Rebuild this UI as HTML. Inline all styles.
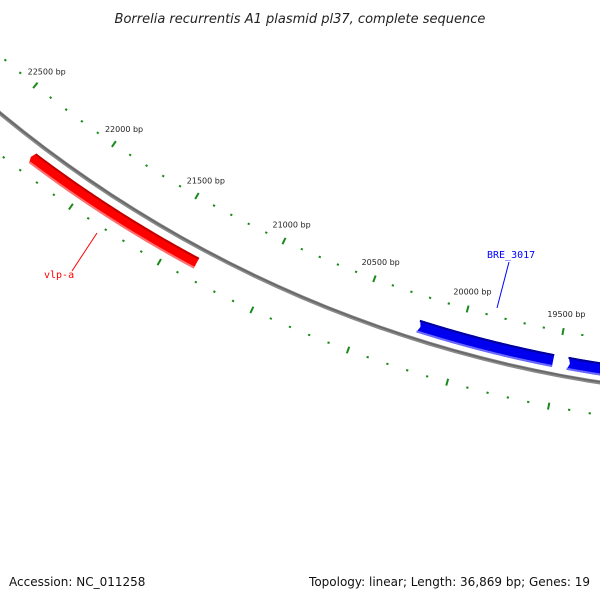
<!DOCTYPE html>
<html><head><meta charset="utf-8"><style>
body{margin:0;background:#fff}
svg{display:block;font-family:"DejaVu Sans","Liberation Sans",sans-serif}
</style></head><body>
<svg width="600" height="600" viewBox="0 0 600 600" id="map">
<rect width="600" height="600" fill="#fff"/>
<text x="300" y="23" text-anchor="middle" font-size="13" font-style="italic" fill="#222">Borrelia recurrentis A1 plasmid pl37, complete sequence</text>
<g id="ticks"></g>
<path id="backbone" fill="none" stroke="#888" stroke-width="4"/>
<path id="backbone2" fill="none" stroke="#666" stroke-width="1.5"/>
<g id="genes"></g>
<text x="9" y="586" font-size="12" fill="#111">Accession: NC_011258</text>
<text x="590" y="586" text-anchor="end" font-size="12" fill="#111">Topology: linear; Length: 36,869 bp; Genes: 19</text>
</svg>
<script>
const tickStart = 19000;
const tickEnd = 23000;
const majorLabels = [22500, 22000, 21500, 21000, 20500, 20000, 19500];
const geneNames = ["vlp-a", "BRE_3017", "BRE_next"];
const geneStarts = [21340, 19521, 17000];
const geneEnds = [22298, 20202, 19436];
const geneStrands = [-1, 1, 1];

const CX = 789, CY = -842;
const NS = "http://www.w3.org/2000/svg";
function ang(bp){ return (105.6 + (bp - 20000) * 0.0094) * Math.PI / 180; }
function pt(bp, r){ const a = ang(bp); return [CX + r*Math.cos(a), CY + r*Math.sin(a)]; }
function el(t, attrs){ const e = document.createElementNS(NS, t); for (const k in attrs) e.setAttribute(k, attrs[k]); return e; }
function arcPath(b1, b2, r){
  let d = ""; const n = 60;
  for (let i = 0; i <= n; i++){ const p = pt(b1 + (b2-b1)*i/n, r); d += (i? "L":"M") + p[0].toFixed(2) + "," + p[1].toFixed(2); }
  return d;
}
const RB = 1239;
document.getElementById('backbone').setAttribute('d', arcPath(16000, 24000, RB));
document.getElementById('backbone2').setAttribute('d', arcPath(16000, 24000, RB - 0.5));

const tg = document.getElementById('ticks');
for (let bp = tickStart; bp <= tickEnd; bp += 100){
  const major = bp % 500 === 0;
  [1195, 1271].forEach(r => {
    const h = major ? 3.5 : 1;
    const a = pt(bp, r - h), b = pt(bp, r + h);
    const ln = el('line', {x1:a[0], y1:a[1], x2:b[0], y2:b[1], stroke:'#1a8a1a', 'stroke-width': major ? 2 : 2.2});
    
    
    tg.appendChild(ln);
  });
}
majorLabels.forEach(bp => {
  const p = pt(bp, 1195 - 18);
  const t = el('text', {x: p[0], y: p[1] + 3, 'font-size': 8, fill: '#222', 'text-anchor': 'middle'});
  t.textContent = bp + " bp";
  
  
  tg.appendChild(t);
});

const gg = document.getElementById('genes');
const geneCfg = [{r1:1248, r2:1260, fill:'#ff0000', dark:'#c00000', light:'#ff7070'},
                 {r1:1219, r2:1232, fill:'#0000ee', dark:'#00009a', light:'#6a6aff'},
                 {r1:1219, r2:1232, fill:'#0000ee', dark:'#00009a', light:'#6a6aff'}];
geneNames.forEach((name, i) => {
  const c = geneCfg[i];
  let s = geneStarts[i], e = geneEnds[i];
  const head = 12;
  const rm = (c.r1 + c.r2)/2;
  const bodyEnd = geneStrands[i] > 0 ? e + head : e - head;
  let pts = [];
  for (let k=0;k<=40;k++) pts.push(pt(s + (bodyEnd-s)*k/40, c.r1));
  pts.push(pt(e, rm));
  for (let k=40;k>=0;k--) pts.push(pt(s + (bodyEnd-s)*k/40, c.r2));
  const d = "M" + pts.map(p=>p[0].toFixed(2)+","+p[1].toFixed(2)).join("L") + "Z";
  const g = el('path', {d: d, fill: c.fill});
  
  
  gg.appendChild(g);
  const top = el('path', {d: arcPath(s, bodyEnd, c.r1 + 1), fill:'none', stroke:c.dark, 'stroke-width':2});
  
  
  gg.appendChild(top);
  const bot = el('path', {d: arcPath(s, bodyEnd, c.r2 - 1), fill:'none', stroke:c.light, 'stroke-width':2});
  
  
  gg.appendChild(bot);
});

const l1 = el('line', {x1:72, y1:271, x2:97, y2:233, stroke:'#ff0000', 'stroke-width':1});


gg.appendChild(l1);
const t1 = el('text', {x:44, y:278, 'font-size':10, fill:'#ff0000', 'font-family':'"DejaVu Sans Mono","Liberation Mono",monospace'});
t1.textContent = "vlp-a";


gg.appendChild(t1);
const l2 = el('line', {x1:509, y1:262, x2:497, y2:308, stroke:'#0000ff', 'stroke-width':1});


gg.appendChild(l2);
const t2 = el('text', {x:487, y:258, 'font-size':10, fill:'#0000ff', 'font-family':'"DejaVu Sans Mono","Liberation Mono",monospace'});
t2.textContent = "BRE_3017";


gg.appendChild(t2);
</script>
</body></html>
